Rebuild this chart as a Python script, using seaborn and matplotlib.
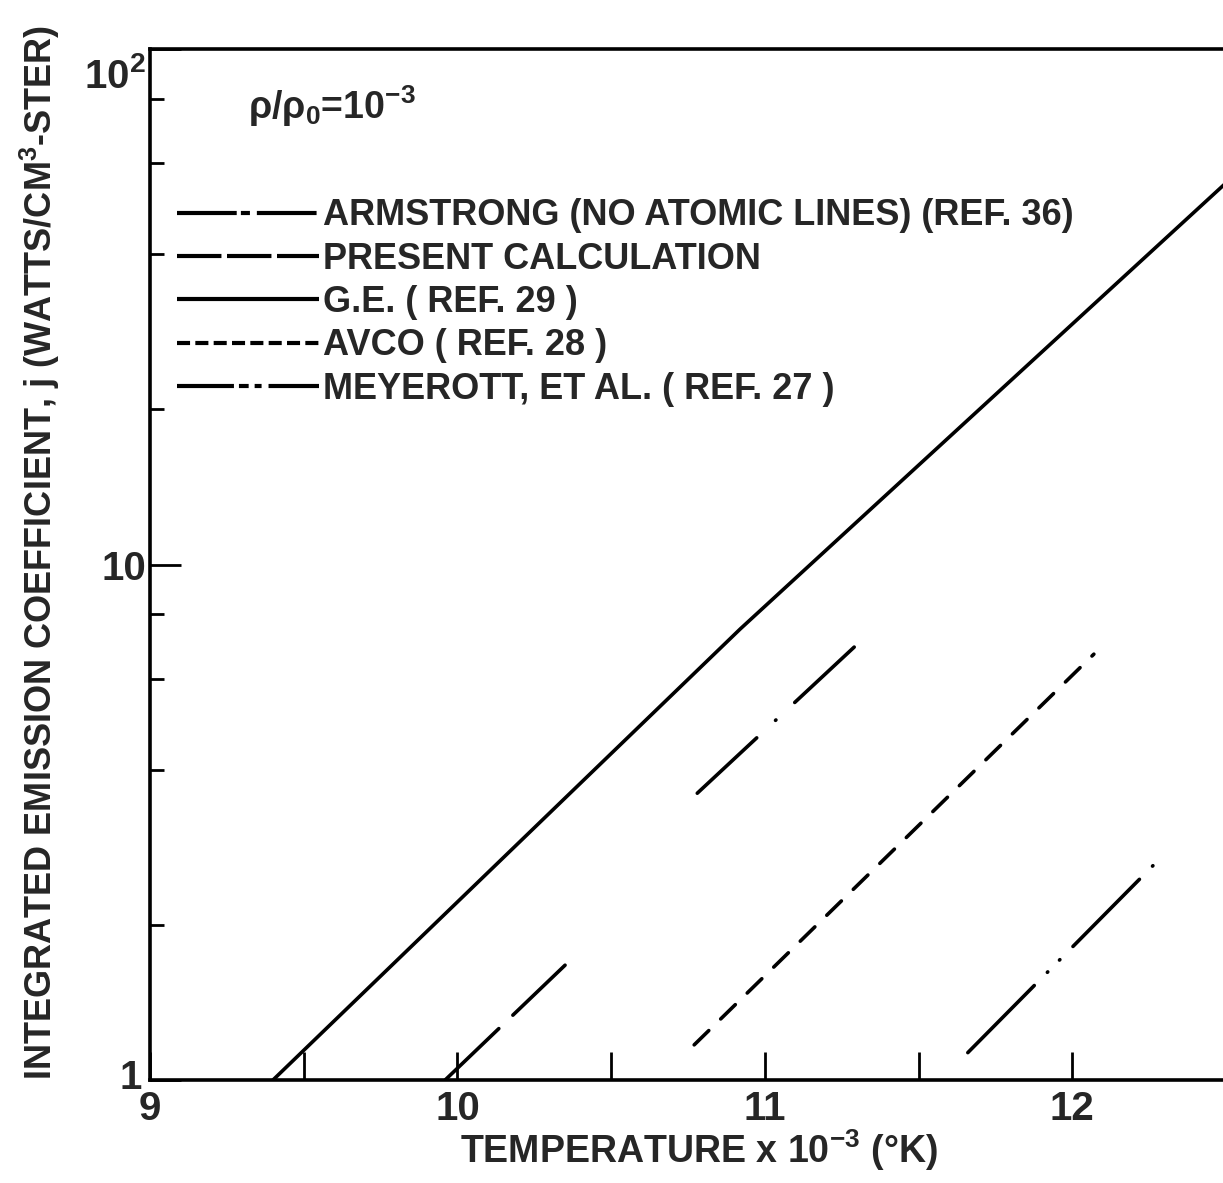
import numpy as np
import pandas as pd
import matplotlib
matplotlib.use("Agg")
import matplotlib.pyplot as plt
import matplotlib.transforms as mtransforms
import seaborn as sns
from matplotlib.ticker import FixedLocator, FixedFormatter, NullFormatter

# ---------------- data ----------------
series_names = [
    "ARMSTRONG (NO ATOMIC LINES) (REF. 36)",
    "PRESENT CALCULATION",
    "G.E. ( REF. 29 )",
    "AVCO ( REF. 28 )",
    "MEYEROTT, ET AL. ( REF. 27 )",
]
armstrong_T = [10.78, 11.30]
armstrong_j = [3.6, 7.0]
present_T = [9.96, 10.35]
present_j = [1.0, 1.67]
ge_T = [9.40, 10.92, 12.5]
ge_j = [1.0, 7.5, 55.0]
avco_T = [10.77, 12.07]
avco_j = [1.17, 6.7]
meyerott_T = [11.66, 12.28]
meyerott_j = [1.13, 2.67]

x_ticks = [9, 10, 11, 12]
x_tick_labels = ["9", "10", "11", "12"]
x_minor_ticks = [9.5, 10.5, 11.5]
y_ticks = [1, 10, 100]
y_tick_labels = ["1", "10", "10$^2$"]
y_minor_ticks = [2, 4, 6, 8, 20, 40, 60, 80]

x_label = "TEMPERATURE x 10$^{-3}$ (°K)"
y_label = "INTEGRATED EMISSION COEFFICIENT, j (WATTS/CM$^3$-STER)"
density_note = r"$\rho/\rho_0$=10$^{-3}$"

# ---------------- style ----------------
sns.set_theme(style="ticks")
plt.rcParams["font.family"] = ["Liberation Sans", "DejaVu Sans"]
plt.rcParams["font.weight"] = "bold"
plt.rcParams["mathtext.fontset"] = "custom"
plt.rcParams["mathtext.rm"] = "Liberation Sans:bold"
plt.rcParams["mathtext.it"] = "Liberation Sans:italic:bold"
plt.rcParams["mathtext.bf"] = "Liberation Sans:bold"
plt.rcParams["mathtext.default"] = "rm"
plt.rcParams["lines.scale_dashes"] = False

df = pd.concat([
    pd.DataFrame({"T": armstrong_T, "j": armstrong_j, "series": series_names[0]}),
    pd.DataFrame({"T": present_T, "j": present_j, "series": series_names[1]}),
    pd.DataFrame({"T": ge_T, "j": ge_j, "series": series_names[2]}),
    pd.DataFrame({"T": avco_T, "j": avco_j, "series": series_names[3]}),
    pd.DataFrame({"T": meyerott_T, "j": meyerott_j, "series": series_names[4]}),
], ignore_index=True)

# dash patterns on the curves (points)
line_styles = {
    series_names[0]: (0, (58.5, 18.5, 0.4, 18.5)),
    series_names[1]: (0, (53.5, 14)),
    series_names[2]: "-",
    series_names[3]: (0, (14.7, 12)),
    series_names[4]: (0, (68, 13.4, 0.4, 12, 0.4, 13.4)),
}
# dash patterns of the short legend samples (points)
legend_styles = {
    series_names[0]: (0, (43, 3, 6.5, 5)),
    series_names[1]: (0, (32, 4)),
    series_names[2]: "-",
    series_names[3]: (0, (9.4, 3.8)),
    series_names[4]: (0, (41, 3.6, 7, 4.3, 5, 5)),
}

fig = plt.figure(figsize=(12.23, 11.83), dpi=100)
ax = fig.add_axes([150 / 1223, 103 / 1183, 1073 / 1223, 1031 / 1183])

handles = []
for name in series_names:
    sub = df[df["series"] == name]
    sns.lineplot(data=sub, x="T", y="j", ax=ax, color="black", linewidth=2.6,
                 linestyle=line_styles[name], dash_capstyle="round",
                 solid_capstyle="round", label=name, errorbar=None)
    handles.append(ax.lines[-1])

ax.set_yscale("log")
ax.set_xlim(9, 12.49)
ax.set_ylim(1, 100)

ax.xaxis.set_major_locator(FixedLocator(x_ticks))
ax.xaxis.set_major_formatter(FixedFormatter(x_tick_labels))
ax.xaxis.set_minor_locator(FixedLocator(x_minor_ticks))
ax.yaxis.set_major_locator(FixedLocator(y_ticks))
ax.yaxis.set_major_formatter(FixedFormatter(y_tick_labels))
ax.yaxis.set_minor_locator(FixedLocator(y_minor_ticks))
ax.yaxis.set_minor_formatter(NullFormatter())

ax.tick_params(axis="both", which="both", direction="in", color="black", width=2.0)
ax.tick_params(axis="x", which="both", length=20, labelsize=29, pad=7)
ax.tick_params(axis="y", which="major", length=22, labelsize=29, pad=3)
ax.tick_params(axis="y", which="minor", length=10)
ax.tick_params(top=False, right=False, which="both")

for s in ["left", "bottom", "top"]:
    ax.spines[s].set_linewidth(2.6)
    ax.spines[s].set_color("black")
ax.spines["right"].set_visible(False)

ax.set_xlabel(x_label, fontsize=27, fontweight="bold")
ax.set_ylabel(y_label, fontsize=26, fontweight="bold")
ax.xaxis.set_label_coords(0.512, -0.046)
ax.yaxis.set_label_coords(-0.082, 0.512)

ax.text(0.091, 0.945, density_note, transform=ax.transAxes, fontsize=27,
        fontweight="bold", ha="left", va="center")

leg = ax.legend(handles=handles, labels=series_names, loc="upper left",
                bbox_to_anchor=(0.025, 0.855), frameon=False, fontsize=26,
                handlelength=3.95, handletextpad=0.1, labelspacing=0.23,
                borderaxespad=0, borderpad=0)
for t in leg.get_texts():
    t.set_fontweight("bold")
for ln, name in zip(leg.get_lines(), series_names):
    ln.set_linestyle(legend_styles[name])
    ln.set_dash_capstyle("butt")
    ln.set_solid_capstyle("butt")
    ln.set_linewidth(3.0)

# the hand-lettered "10^2" label sits a little below its tick, "1" a bit above
fig.canvas.draw()
ytick_objs = ax.yaxis.get_major_ticks()
top_label = ytick_objs[2].label1
top_label.set_transform(top_label.get_transform() +
                        mtransforms.ScaledTranslation(0, -24 / 100, fig.dpi_scale_trans))
bottom_label = ytick_objs[0].label1
bottom_label.set_transform(bottom_label.get_transform() +
                           mtransforms.ScaledTranslation(-4 / 100, 6 / 100, fig.dpi_scale_trans))

fig.savefig("out.png", dpi=100)
